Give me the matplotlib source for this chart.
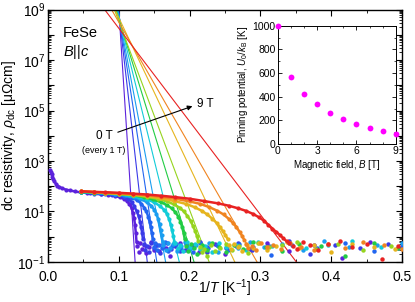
import numpy as np
import matplotlib
matplotlib.use("Agg")
import matplotlib.pyplot as plt
import matplotlib.ticker as ticker

plt.rcParams["font.family"] = ["Liberation Sans", "DejaVu Sans"]
plt.rcParams["mathtext.fontset"] = "custom"
plt.rcParams["mathtext.rm"] = "Liberation Sans"
plt.rcParams["mathtext.it"] = "Liberation Sans:italic"
plt.rcParams["mathtext.bf"] = "Liberation Sans:bold"

# ── data: resistivity [μΩcm] vs 1/T [1/K], fields 0..9 T ─────────────────────
fields = [0, 1, 2, 3, 4, 5, 6, 7, 8, 9]

# resistive branch
x_0T = [0.0033, 0.004, 0.005, 0.006, 0.0075, 0.009, 0.011, 0.013, 0.016, 0.020, 0.025,
        0.031, 0.038, 0.046, 0.055, 0.065, 0.075, 0.085, 0.095, 0.102, 0.108, 0.112,
        0.115, 0.118, 0.120, 0.1215, 0.123, 0.124, 0.125]
r_0T = [440, 380, 295, 240, 190, 155, 126, 107, 93, 83, 74, 68, 62, 57, 54, 50, 48, 45,
        41, 36, 31, 25, 20, 13.5, 8.9, 5.6, 2.8, 1.4, 0.63]
x_1T = [0.047, 0.06, 0.075, 0.09, 0.10, 0.107, 0.113, 0.118, 0.122, 0.125, 0.128, 0.130,
        0.1315, 0.133, 0.134]
r_1T = [59, 55, 51, 47, 43, 38, 32, 24, 15.8, 10.5, 6.6, 4.0, 2.4, 1.41, 0.83]
x_2T = [0.047, 0.065, 0.08, 0.095, 0.108, 0.118, 0.126, 0.132, 0.136, 0.139, 0.1415,
        0.1435, 0.145, 0.1465, 0.148]
r_2T = [59, 54, 51, 47, 42, 35, 28, 20, 14.1, 10, 6.3, 3.8, 2.4, 1.41, 0.79]
x_3T = [0.047, 0.065, 0.08, 0.095, 0.11, 0.122, 0.132, 0.14, 0.146, 0.150, 0.153, 0.1555,
        0.1575, 0.159, 0.1605, 0.162]
r_3T = [60, 55, 52, 48, 43, 36, 30, 23, 16.6, 11.7, 8.3, 5.2, 3.2, 1.9, 1.12, 0.63]
x_4T = [0.047, 0.065, 0.08, 0.10, 0.115, 0.128, 0.14, 0.15, 0.158, 0.164, 0.168, 0.171,
        0.1735, 0.1755, 0.177, 0.1785]
r_4T = [60, 56, 52, 48, 43, 36, 30, 23, 16.6, 11.7, 7.9, 5.0, 3.0, 1.78, 1.05, 0.63]
x_5T = [0.047, 0.065, 0.08, 0.10, 0.12, 0.135, 0.148, 0.16, 0.168, 0.175, 0.180, 0.184,
        0.187, 0.1895, 0.1915, 0.193]
r_5T = [60, 56, 54, 49, 44, 37, 30, 23, 17.8, 13.2, 9.3, 6.3, 4.0, 2.4, 1.41, 0.83]
x_6T = [0.047, 0.065, 0.08, 0.10, 0.12, 0.14, 0.155, 0.168, 0.178, 0.186, 0.192, 0.197,
        0.2015, 0.205, 0.208, 0.2105, 0.2125]
r_6T = [62, 58, 54, 50, 45, 38, 32, 25, 19, 14.1, 10, 6.6, 4.2, 2.6, 1.66, 1.05, 0.66]
x_7T = [0.047, 0.065, 0.08, 0.10, 0.12, 0.14, 0.16, 0.178, 0.195, 0.207, 0.217, 0.225,
        0.232, 0.238, 0.243, 0.247, 0.2505, 0.254]
r_7T = [62, 58, 55, 51, 47, 41, 33, 26, 20, 14.8, 10.7, 7.6, 5.2, 3.55, 2.4, 1.66, 1.17, 0.79]
x_8T = [0.047, 0.065, 0.08, 0.10, 0.12, 0.14, 0.16, 0.18, 0.20, 0.215, 0.228, 0.239, 0.248,
        0.255, 0.261, 0.266, 0.2705, 0.274, 0.277]
r_8T = [63, 59, 56, 52, 49, 44, 38, 32, 25, 20, 14.8, 10.7, 7.6, 5.2, 3.55, 2.4, 1.58, 1.10, 0.76]
x_9T = [0.047, 0.065, 0.08, 0.10, 0.12, 0.14, 0.16, 0.18, 0.20, 0.22, 0.24, 0.255, 0.268,
        0.28, 0.29, 0.298, 0.305, 0.311, 0.317, 0.322, 0.327, 0.332, 0.337]
r_9T = [63, 60, 58, 55, 51, 47, 42, 37, 32, 26, 21, 17, 13.5, 10.5, 7.9, 5.9, 4.3, 3.0,
        2.1, 1.58, 1.2, 0.89, 0.66]

# noise floor below the transition
xn_0T = [0.126, 0.128, 0.130, 0.133, 0.136, 0.139, 0.142, 0.145, 0.149, 0.153, 0.157,
         0.162, 0.167, 0.173, 0.179, 0.186, 0.194, 0.203, 0.213, 0.224, 0.236, 0.25,
         0.266, 0.285, 0.31, 0.34, 0.375, 0.415, 0.455, 0.495]
rn_0T = [0.42, 0.25, 0.55, 0.34, 0.48, 0.22, 0.40, 0.60, 0.30, 0.45, 0.28, 0.52, 0.36,
         0.18, 0.44, 0.58, 0.31, 0.47, 0.26, 0.38, 0.50, 0.21, 0.43, 0.33, 0.56, 0.27,
         0.46, 0.15, 0.62, 0.35]
xn_1T = [0.135, 0.137, 0.14, 0.143, 0.146, 0.15, 0.154, 0.158, 0.163, 0.168, 0.174, 0.18,
         0.187, 0.195, 0.204, 0.214, 0.225, 0.238, 0.252, 0.268, 0.288, 0.312, 0.34,
         0.37, 0.405, 0.44, 0.48]
rn_1T = [0.50, 0.31, 0.44, 0.26, 0.57, 0.37, 0.49, 0.23, 0.41, 0.55, 0.33, 0.46, 0.28,
         0.52, 0.39, 0.60, 0.24, 0.45, 0.35, 0.58, 0.30, 0.42, 0.66, 0.20, 0.48, 0.37, 0.53]
xn_2T = [0.149, 0.151, 0.154, 0.157, 0.161, 0.165, 0.17, 0.175, 0.181, 0.188, 0.196,
         0.205, 0.215, 0.226, 0.239, 0.254, 0.27, 0.29, 0.315, 0.345, 0.38, 0.42, 0.46, 0.5]
rn_2T = [0.38, 0.55, 0.29, 0.47, 0.35, 0.61, 0.27, 0.43, 0.52, 0.32, 0.40, 0.24, 0.56,
         0.36, 0.46, 0.30, 0.51, 0.40, 0.19, 0.48, 0.35, 0.57, 0.28, 0.44]
xn_3T = [0.163, 0.166, 0.169, 0.173, 0.177, 0.182, 0.188, 0.194, 0.201, 0.209, 0.218,
         0.228, 0.24, 0.253, 0.268, 0.285, 0.305, 0.33, 0.36, 0.39, 0.425, 0.465, 0.5]
rn_3T = [0.45, 0.30, 0.58, 0.36, 0.50, 0.27, 0.42, 0.62, 0.33, 0.48, 0.38, 0.55, 0.26,
         0.44, 0.35, 0.60, 0.40, 0.52, 0.30, 0.66, 0.38, 0.47, 0.56]
xn_4T = [0.180, 0.183, 0.187, 0.191, 0.196, 0.201, 0.207, 0.214, 0.222, 0.231, 0.241,
         0.252, 0.265, 0.28, 0.297, 0.317, 0.34, 0.365, 0.395, 0.43, 0.47]
rn_4T = [0.55, 0.36, 0.47, 0.28, 0.60, 0.40, 0.51, 0.33, 0.44, 0.25, 0.57, 0.38, 0.49,
         0.31, 0.63, 0.42, 0.54, 0.35, 0.46, 0.68, 0.39]
xn_5T = [0.195, 0.198, 0.202, 0.206, 0.211, 0.217, 0.224, 0.232, 0.241, 0.251, 0.262,
         0.275, 0.29, 0.308, 0.33, 0.355, 0.385, 0.42, 0.46, 0.495]
rn_5T = [0.42, 0.27, 0.50, 0.35, 0.20, 0.45, 0.30, 0.55, 0.38, 0.25, 0.48, 0.33, 0.60,
         0.40, 0.28, 0.52, 0.43, 0.17, 0.58, 0.36]
xn_6T = [0.214, 0.217, 0.221, 0.225, 0.23, 0.236, 0.243, 0.251, 0.26, 0.27, 0.282, 0.296,
         0.312, 0.33, 0.352, 0.378, 0.41, 0.445, 0.485]
rn_6T = [0.40, 0.24, 0.33, 0.18, 0.45, 0.28, 0.37, 0.52, 0.30, 0.43, 0.22, 0.56, 0.39,
         0.47, 0.60, 0.34, 0.50, 0.29, 0.44]
xn_7T = [0.256, 0.259, 0.263, 0.268, 0.274, 0.281, 0.289, 0.298, 0.309, 0.322, 0.337,
         0.355, 0.375, 0.40, 0.43, 0.46, 0.49]
rn_7T = [0.45, 0.32, 0.52, 0.38, 0.28, 0.47, 0.35, 0.55, 0.30, 0.42, 0.60, 0.36, 0.48,
         0.26, 0.53, 0.40, 0.33]
xn_8T = [0.279, 0.283, 0.288, 0.294, 0.301, 0.309, 0.318, 0.329, 0.342, 0.357, 0.375,
         0.395, 0.42, 0.445, 0.475, 0.5]
rn_8T = [0.50, 0.36, 0.44, 0.30, 0.55, 0.38, 0.47, 0.33, 0.58, 0.41, 0.29, 0.52, 0.37,
         0.62, 0.45, 0.34]
xn_9T = [0.341, 0.346, 0.352, 0.36, 0.37, 0.382, 0.396, 0.412, 0.43, 0.45, 0.472, 0.495]
rn_9T = [0.55, 0.42, 0.33, 0.60, 0.46, 0.30, 0.52, 0.70, 0.38, 0.50, 0.13, 0.44]

# Arrhenius fits rho = rho0 * exp(-U0/T); U0 also shown in the inset
U0 = [1000, 565, 421, 341, 262, 209, 172, 136, 112, 85]
rho0 = [2.7e52, 2.5e33, 1.26e27, 4.0e23, 1.26e20, 5.25e17, 1.0e16, 3.8e14, 2.3e13, 8.9e11]

COLORS = ["#5c22dc", "#3a3ae8", "#2266f0", "#1a9ef0", "#12ccd8",
          "#22cc44", "#96d41e", "#e6b41e", "#f08420", "#e82222"]

branch_x = [x_0T, x_1T, x_2T, x_3T, x_4T, x_5T, x_6T, x_7T, x_8T, x_9T]
branch_r = [r_0T, r_1T, r_2T, r_3T, r_4T, r_5T, r_6T, r_7T, r_8T, r_9T]
floor_x = [xn_0T, xn_1T, xn_2T, xn_3T, xn_4T, xn_5T, xn_6T, xn_7T, xn_8T, xn_9T]
floor_r = [rn_0T, rn_1T, rn_2T, rn_3T, rn_4T, rn_5T, rn_6T, rn_7T, rn_8T, rn_9T]

fig = plt.figure(figsize=(4.15, 3.02), dpi=100)
ax = fig.add_axes([0.1157, 0.1325, 0.8530, 0.8360])

# fit lines first, then data on top
x_fit = np.array([0.0, 0.5])
for i, b in enumerate(fields):
    ax.plot(x_fit, rho0[i] * np.exp(-U0[i] * x_fit), color=COLORS[i], lw=0.8, zorder=2)

for i, b in enumerate(fields):
    ax.plot(floor_x[i], floor_r[i], "o", color=COLORS[i], ms=3.2, mew=0, zorder=3)
for i, b in enumerate(fields):
    ax.plot(branch_x[i], branch_r[i], "-o", color=COLORS[i], ms=3.0, mew=0,
            lw=1.8, zorder=4)

ax.set_yscale("log")
ax.set_xlim(0, 0.5)
ax.set_ylim(1e-1, 1e9)
ax.set_yticks([10.0 ** k for k in range(-1, 10)])
ax.yaxis.set_major_formatter(ticker.FuncFormatter(
    lambda v, p: (r"10$^{%d}$" % round(np.log10(v))) if round(np.log10(v)) % 2 else ""))
ax.yaxis.set_minor_locator(ticker.LogLocator(base=10, subs=np.arange(2, 10), numticks=20))
ax.yaxis.set_minor_formatter(ticker.NullFormatter())
ax.xaxis.set_major_locator(ticker.MultipleLocator(0.1))
ax.xaxis.set_minor_locator(ticker.MultipleLocator(0.05))
ax.xaxis.set_major_formatter(ticker.FormatStrFormatter("%.1f"))
ax.tick_params(which="both", direction="in", top=True, right=True, labelsize=10)
ax.tick_params(axis="x", which="major", pad=6)
ax.tick_params(axis="y", which="major", pad=2)
ax.tick_params(which="major", length=4, width=0.8)
ax.tick_params(which="minor", length=2, width=0.6)
for s in ax.spines.values():
    s.set_linewidth(1.0)

ax.set_xlabel(r"1/$T$ [K$^{-1}$]", fontsize=10)
ax.xaxis.set_label_coords(0.5, -0.062)
ax.set_ylabel(r"dc resistivity, $\rho_{\rm dc}$ [μΩcm]", fontsize=10)
ax.yaxis.set_label_coords(-0.086, 0.5)

ax.text(0.042, 0.905, "FeSe", transform=ax.transAxes, fontsize=10.5, va="center")
ax.text(0.042, 0.83, r"$B$||$c$", transform=ax.transAxes, fontsize=10.5, va="center")

ax.annotate("", xy=(0.204, 1.48e5), xytext=(0.0986, 1.38e4),
            arrowprops=dict(arrowstyle="-|>", lw=0.8, color="k", mutation_scale=7,
                            shrinkA=0, shrinkB=0))
ax.text(0.080, 9.5e3, "0 T", fontsize=8.5, ha="center", va="center")
ax.text(0.079, 2.7e3, "(every 1 T)", fontsize=6.5, ha="center", va="center")
ax.text(0.2225, 1.78e5, "9 T", fontsize=8.5, ha="center", va="center")

# ── inset: pinning potential vs field ────────────────────────────────────────
ins = fig.add_axes([0.669, 0.523, 0.285, 0.392])
ins.plot(fields, U0, "o", color="#ff00ff", ms=4.2, mew=0, clip_on=False, zorder=5)
ins.set_xlim(0, 9)
ins.set_ylim(0, 1000)
ins.xaxis.set_major_locator(ticker.MultipleLocator(3))
ins.xaxis.set_minor_locator(ticker.MultipleLocator(1))
ins.yaxis.set_major_locator(ticker.MultipleLocator(200))
ins.yaxis.set_minor_locator(ticker.MultipleLocator(100))
ins.tick_params(which="both", direction="in", top=True, right=True, labelsize=7.5, pad=1.5)
ins.tick_params(which="major", length=3, width=0.6)
ins.tick_params(which="minor", length=1.5, width=0.5)
for s in ins.spines.values():
    s.set_linewidth(0.7)
ins.set_xlabel(r"Magnetic field, $B$ [T]", fontsize=7, labelpad=1)
ins.set_ylabel(r"Pinning potential, $U_0/k_{\rm B}$ [K]", fontsize=7, labelpad=2)

fig.savefig("out.png", dpi=100)
